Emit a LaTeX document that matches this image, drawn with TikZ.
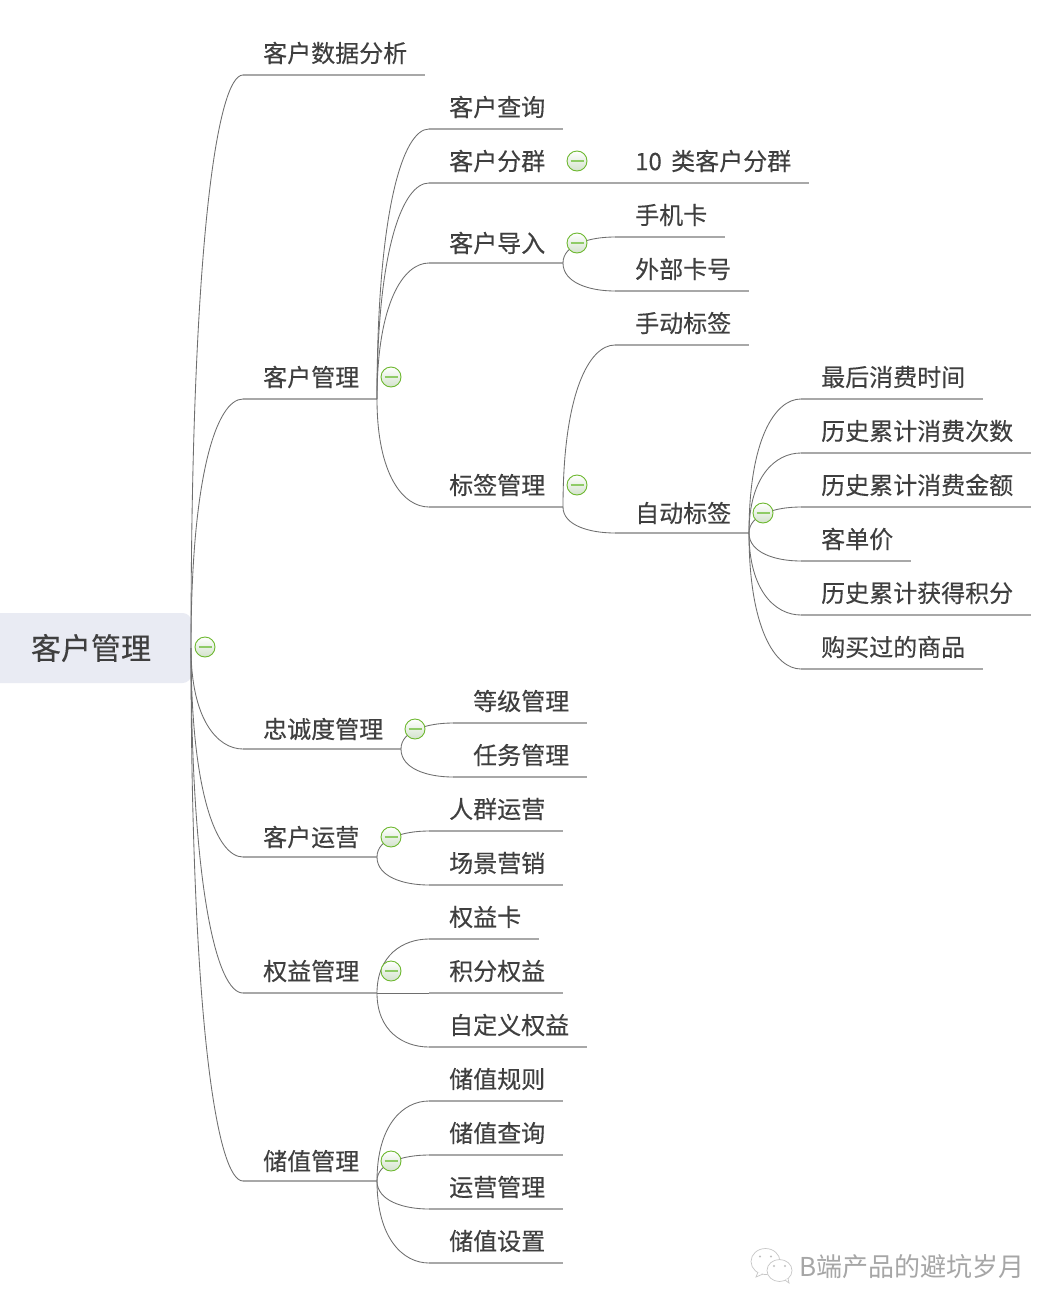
\documentclass[tikz,border=0pt]{standalone}
\usepackage{fontspec}
\setmainfont{Noto Sans CJK SC}[FakeBold=0.3]
\newfontfamily\wmfont{Noto Sans CJK SC}
\usetikzlibrary{calc}
\definecolor{ink}{HTML}{3F3F3F}
\definecolor{ulc}{HTML}{A8A8A8}
\definecolor{curvec}{HTML}{6E6E6E}
\definecolor{rootc}{HTML}{E9EBF3}
\definecolor{okc}{HTML}{6DB82F}
\definecolor{barc}{HTML}{8FCB66}
\definecolor{foldlow}{HTML}{D3E2CC}
\definecolor{wm}{HTML}{A6A6A6}
\tikzset{
  lbl/.style={inner sep=0pt,anchor=west,text=ink,font=\fontsize{24}{28}\selectfont},
  rootlbl/.style={inner sep=0pt,text=ink,font=\fontsize{30}{34}\selectfont},
  ul/.style={draw=ulc,line width=1.3pt},
  cv/.style={draw=curvec,line width=0.85pt},
  wmtxt/.style={inner sep=0pt,anchor=west,text=wm,font=\wmfont\fontsize{26}{28}\selectfont},
  wmicon/.style={draw=black!22,line width=0.7pt,fill=white},
}
% [text rise above line], id, x start, x end, underline y, text x, text
\newcommand{\topicnode}[7][22]{%
  \coordinate (#2-s) at (#3,#5);
  \coordinate (#2-e) at (#4,#5);
  \draw[ul] (#2-s) -- (#2-e);
  \node[lbl] (#2) at (#6,#5-#1) {#7};
}
% from hub coordinate to child's underline start
\newcommand{\linkto}[2]{%
  \draw[cv] let \p1=(#1),\p2=(#2-s) in
    (\p1) .. controls (\x1,{\y2+0.3*(\y1-\y2)}) and ({\x1+0.5*(\x2-\x1)},\y2) .. (\p2);
}
% collapse marker
\newcommand{\foldmark}[3]{%
  \node[circle,minimum size=20pt,inner sep=0pt,draw=okc,line width=0.9pt,top color=white,bottom color=foldlow] (#1) at (#2,#3) {};
  \draw[barc,line width=1.7pt] ($(#1)+(-6.5,0)$) -- ($(#1)+(6.5,0)$);
}
\begin{document}
\begin{tikzpicture}[x=1pt,y=-1pt]
\useasboundingbox (0,0) rectangle (1058,1314);
\fill[white] (0,0) rectangle (1058,1314);
% root
\begin{scope}
\clip (0,600) rectangle (200,700);
\fill[rootc,rounded corners=9pt] (-20,613) rectangle (191.5,683);
\end{scope}
\node[rootlbl] (root) at (91,648) {客户管理};
\coordinate (roothub) at (191,648);
% level 1
\topicnode{a}{243}{425}{75}{263}{客户数据分析}
\topicnode{b}{243}{377}{399}{263}{客户管理}
\topicnode[20]{c}{243}{401}{749}{263}{忠诚度管理}
\topicnode[20]{d}{243}{377}{857}{263}{客户运营}
\topicnode{e}{243}{377}{993}{263}{权益管理}
\topicnode[20]{f}{243}{377}{1181}{263}{储值管理}
\foreach \t in {a,b,c,d,e,f} {\linkto{roothub}{\t}}
% customer management
\topicnode{b1}{429}{563}{129}{449}{客户查询}
\topicnode{b2}{429}{563}{183}{449}{客户分群}
\topicnode[20]{b3}{429}{563}{263}{449}{客户导入}
\topicnode{b4}{429}{563}{507}{449}{标签管理}
\foreach \t in {b1,b2,b3,b4} {\linkto{b-e}{\t}}
\topicnode{b21}{563}{809}{183}{635}{10\hspace{4pt} 类客户分群}
\topicnode{b31}{615}{725}{237}{635}{手机卡}
\topicnode{b32}{615}{749}{291}{635}{外部卡号}
\linkto{b3-e}{b31}
\linkto{b3-e}{b32}
\topicnode{b41}{615}{749}{345}{635}{手动标签}
\topicnode[20]{b42}{615}{749}{533}{635}{自动标签}
\linkto{b4-e}{b41}
\linkto{b4-e}{b42}
\topicnode{g1}{801}{983}{399}{821}{最后消费时间}
\topicnode{g2}{801}{1031}{453}{821}{历史累计消费次数}
\topicnode{g3}{801}{1031}{507}{821}{历史累计消费金额}
\topicnode{g4}{801}{911}{561}{821}{客单价}
\topicnode{g5}{801}{1031}{615}{821}{历史累计获得积分}
\topicnode{g6}{801}{983}{669}{821}{购买过的商品}
\foreach \t in {g1,g2,g3,g4,g5,g6} {\linkto{b42-e}{\t}}
% loyalty
\topicnode{c1}{453}{587}{723}{473}{等级管理}
\topicnode{c2}{453}{587}{777}{473}{任务管理}
\linkto{c-e}{c1}
\linkto{c-e}{c2}
% operations
\topicnode{d1}{429}{563}{831}{449}{人群运营}
\topicnode{d2}{429}{563}{885}{449}{场景营销}
\linkto{d-e}{d1}
\linkto{d-e}{d2}
% benefits
\topicnode{e1}{429}{539}{939}{449}{权益卡}
\topicnode{e2}{429}{563}{993}{449}{积分权益}
\topicnode{e3}{429}{587}{1047}{449}{自定义权益}
\linkto{e-e}{e1}
\linkto{e-e}{e2}
\linkto{e-e}{e3}
% stored value
\topicnode{f1}{429}{563}{1101}{449}{储值规则}
\topicnode{f2}{429}{563}{1155}{449}{储值查询}
\topicnode{f3}{429}{563}{1209}{449}{运营管理}
\topicnode{f4}{429}{563}{1263}{449}{储值设置}
\foreach \t in {f1,f2,f3,f4} {\linkto{f-e}{\t}}
% fold markers
\foldmark{m0}{205}{647}
\foldmark{m1}{391}{377}
\foldmark{m2}{577}{161}
\foldmark{m3}{577}{243}
\foldmark{m4}{577}{485}
\foldmark{m5}{763}{513}
\foldmark{m6}{415}{729}
\foldmark{m7}{391}{837}
\foldmark{m8}{391}{971}
\foldmark{m9}{391}{1161}
% watermark
\draw[wmicon] (765.5,1261.5) ellipse [x radius=14.5,y radius=13];
\draw[wmicon] (758,1272) -- (756,1277) -- (763,1274);
\fill[black!25] (760,1256.5) circle (1.2) (771,1256.5) circle (1.2);
\draw[wmicon] (779.5,1270.5) ellipse [x radius=12.5,y radius=11];
\draw[wmicon] (785,1280) -- (789,1283) -- (788,1278.5);
\fill[black!25] (774,1266) circle (1.2) (785,1266) circle (1.2);
\node[wmtxt] (wmlabel) at (799,1267) {B端产品的避坑岁月};
\end{tikzpicture}
\end{document}
